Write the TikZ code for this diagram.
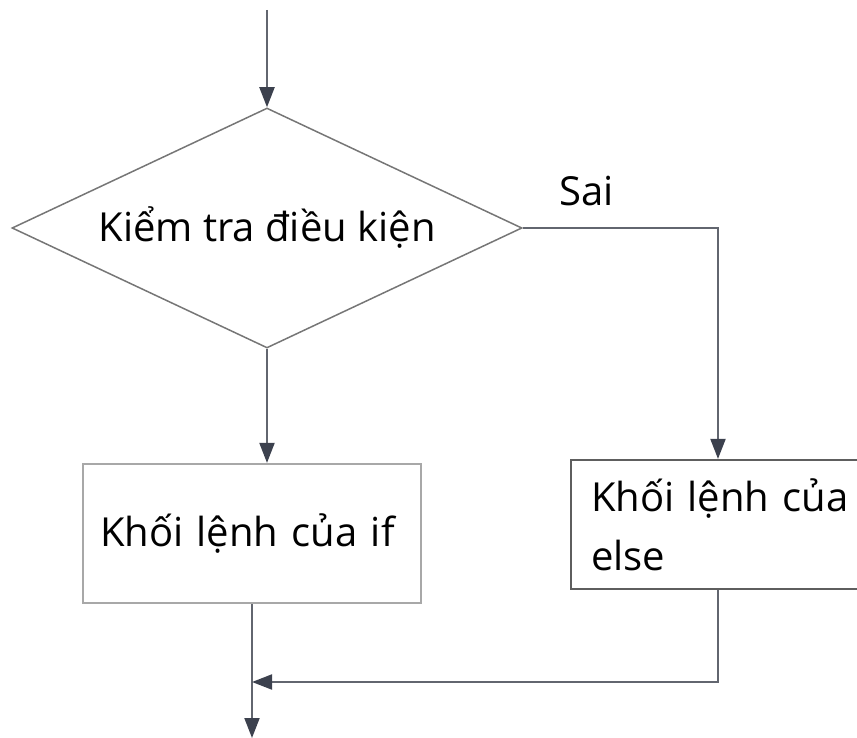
\documentclass[tikz,border=0pt]{standalone}
\usepackage{fontspec}
\setmainfont{Open Sans}
\usetikzlibrary{shapes.geometric,arrows.meta}
\definecolor{diagc}{HTML}{767676}
\definecolor{connc}{HTML}{62666F}
\definecolor{tipc}{HTML}{3C414E}
\definecolor{ifc}{HTML}{A8A8A8}
\definecolor{elsec}{HTML}{5E5E5E}
\begin{document}
\begin{tikzpicture}[x=1pt,y=-1pt,
  font=\fontsize{40}{59}\selectfont,
  decision/.style={diamond, shape aspect=2.125, draw=diagc, line width=1.5pt, inner sep=0pt,
    minimum width=510pt, minimum height=240pt},
  blockbox/.style={rectangle, line width=2.2pt, align=left, inner ysep=0pt},
  conn/.style={draw=connc, line width=2pt},
  flow/.style={conn, -{Triangle[width=15pt,length=20pt,color=tipc,fill=tipc]}}]
\useasboundingbox (0,0) rectangle (857,738);
\clip (0,0) rectangle (857,738);
\node[decision] (cond) at (267,228) {Kiểm tra điều kiện};
\node[blockbox, draw=ifc, minimum width=338pt, minimum height=139pt,
  inner xsep=17pt, text width=304pt] (ifb) at (252,533.5) {Khối lệnh của if};
\node[blockbox, draw=elsec, minimum width=306pt, minimum height=129pt,
  inner xsep=20pt, text width=266pt] (elseb) at (724,524.5) {Khối lệnh của\\else};
\node[anchor=base west, inner sep=0pt] (sai) at (559,206) {Sai};
\coordinate (in) at (267,10);
\coordinate (sjoin) at (718,228);
\coordinate (merge) at (252,682);
\coordinate (out) at (252,738);
\draw[flow] (in) -- (cond.north);
\draw[flow] (cond.south) -- (cond.south |- ifb.north);
\draw[flow] (cond.east) -- (sjoin) -- (sjoin |- elseb.north);
\draw[flow] (ifb.south) -- (out);
\draw[flow] (sjoin |- elseb.south) -- (sjoin |- merge) -- (merge);
\end{tikzpicture}
\end{document}
